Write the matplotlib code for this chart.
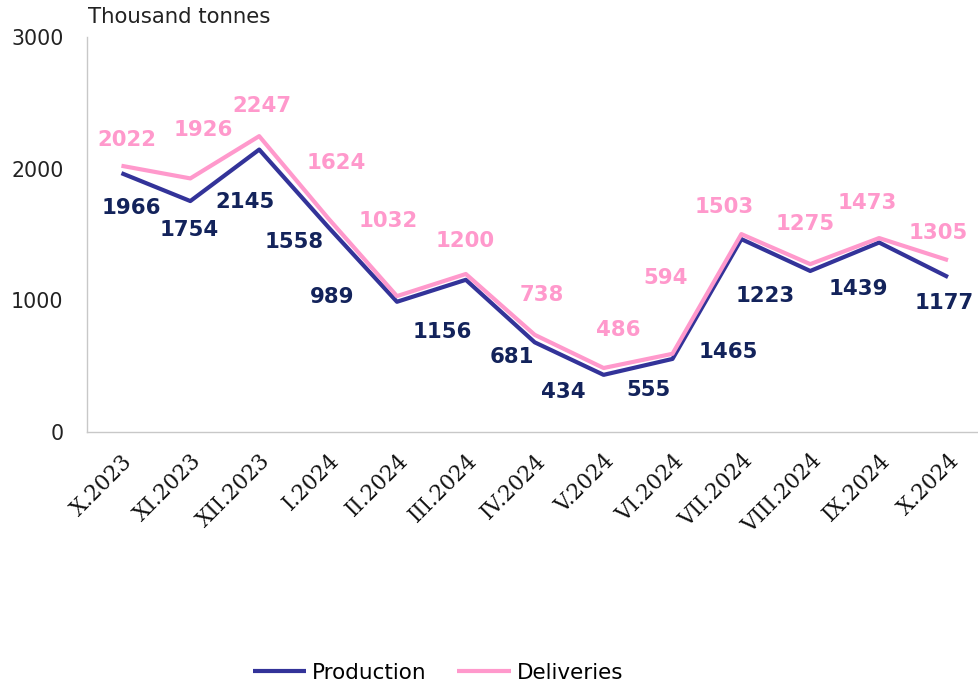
import numpy as np
import matplotlib.pyplot as plt

# donnees (milliers de tonnes)
months = ["X.2023", "XI.2023", "XII.2023", "I.2024", "II.2024", "III.2024", "IV.2024",
          "V.2024", "VI.2024", "VII.2024", "VIII.2024", "IX.2024", "X.2024"]
production = [1966, 1754, 2145, 1558, 989, 1156, 681, 434, 555, 1465, 1223, 1439, 1177]
deliveries = [2022, 1926, 2247, 1624, 1032, 1200, 738, 486, 594, 1503, 1275, 1473, 1305]

# decalage des etiquettes en pixels (dx, dy)
prod_off = [(10, -35), (-1, -29), (-14, -52), (-34, -15), (-65, 5), (-24, -52), (-23, -15),
            (-40, -17), (-24, -31), (-13, -113), (-45, -25), (-21, -46), (-4, -26)]
deliv_off = [(5, 26), (13, 48), (3, 30), (8, 55), (-9, 75), (-1, 33), (7, 40),
             (15, 38), (-7, 76), (-17, 27), (-5, 40), (-12, 35), (-10, 27)]

c_prod = "#333399"
c_prod_txt = "#13235b"
c_deliv = "#ff99cc"

fig = plt.figure(figsize=(9.79, 6.88), dpi=100)
ax = fig.add_axes([87 / 979, 1 - 432 / 688, (979 - 87) / 979, (432 - 37) / 688])

x = np.arange(len(months))
ax.plot(x, production, color=c_prod, lw=3, label="Production", solid_capstyle="butt", zorder=2)
ax.plot(x, deliveries, color=c_deliv, lw=3, label="Deliveries", solid_capstyle="butt", zorder=3)

for i in range(len(months)):
    ax.annotate(str(production[i]), (x[i], production[i]), xytext=prod_off[i],
                textcoords="offset pixels", ha="center", va="center",
                fontsize=15.3, fontweight="bold", color=c_prod_txt)
    ax.annotate(str(deliveries[i]), (x[i], deliveries[i]), xytext=deliv_off[i],
                textcoords="offset pixels", ha="center", va="center",
                fontsize=15.3, fontweight="bold", color=c_deliv)

ax.set_xlim(-0.5, 12.45)
ax.set_ylim(0, 3000)
ax.set_yticks([0, 1000, 2000, 3000])
ax.set_xticks(x)
ax.set_xticklabels(months, rotation=45, ha="right", rotation_mode="anchor",
                   fontsize=15.5, family="DejaVu Serif")
ax.tick_params(axis="y", length=0, pad=17, labelsize=14.8, labelcolor="#222222")
ax.tick_params(axis="x", length=0, pad=13, labelcolor="#111111")

for s in ["top", "right"]:
    ax.spines[s].set_visible(False)
for s in ["left", "bottom"]:
    ax.spines[s].set_color("#c8c8c8")
    ax.spines[s].set_linewidth(1)

fig.text(88 / 979, 1 - 17 / 688, "Thousand tonnes", fontsize=15.3, va="center", ha="left", color="#222222")

fig.legend(loc="center", bbox_to_anchor=(438 / 979, 1 - 673 / 688), ncol=2, frameon=False,
           fontsize=15.5, handlelength=2.5, handletextpad=0.28, columnspacing=1.4)

fig.savefig("out.png", dpi=100)
